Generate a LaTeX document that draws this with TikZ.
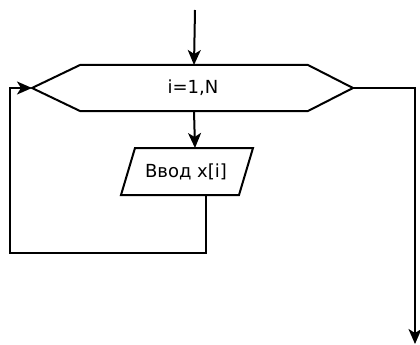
\documentclass[tikz,border=0pt]{standalone}
\usepackage{fontspec}
\setmainfont{DejaVu Sans}
\usetikzlibrary{arrows.meta}
\begin{document}
\begin{tikzpicture}[x=1pt,y=-1pt,
  shapeline/.style={line width=2pt,line join=miter},
  conn/.style={line width=2pt},
  arr/.style={conn,-{Stealth[length=15pt,width=13pt,inset=4pt]}},
  lbl/.style={inner sep=0pt,font=\fontsize{18}{21}\selectfont}]
\useasboundingbox (0,0) rectangle (420,345);
% hexagon (loop)
\coordinate (hl) at (32,88);
\coordinate (htl) at (80,65);
\coordinate (htr) at (308,65);
\coordinate (hr) at (353,88);
\coordinate (hbr) at (308,111);
\coordinate (hbl) at (80,111);
\coordinate (htop) at (194,65);
\coordinate (hbot) at (194,111);
\draw[shapeline] (hl) -- (htl) -- (htr) -- (hr) -- (hbr) -- (hbl) -- cycle;
\node[lbl] (looptxt) at (193,88) {i=1,N};
% parallelogram (input)
\coordinate (p1) at (135,148);
\coordinate (p2) at (253,148);
\coordinate (p3) at (239,195);
\coordinate (p4) at (121,195);
\coordinate (ptop) at (195,148);
\coordinate (pbot) at (206,195);
\draw[shapeline] (p1) -- (p2) -- (p3) -- (p4) -- cycle;
\node[lbl] (intxt) at (186,172) {Ввод x[i]};
% connectors
\coordinate (start) at (195,10);
\coordinate (loopbl) at (10,253);
\coordinate (loopbr) at (206,253);
\coordinate (loopl) at (10,88);
\coordinate (exitc) at (415,88);
\coordinate (end) at (415,344);
\draw[arr] (start) -- (htop);
\draw[arr] (hbot) -- (ptop);
\draw[arr] (pbot) -- (loopbr) -- (loopbl) -- (loopl) -- (hl);
\draw[arr] (hr) -- (exitc) -- (end);
\end{tikzpicture}
\end{document}
